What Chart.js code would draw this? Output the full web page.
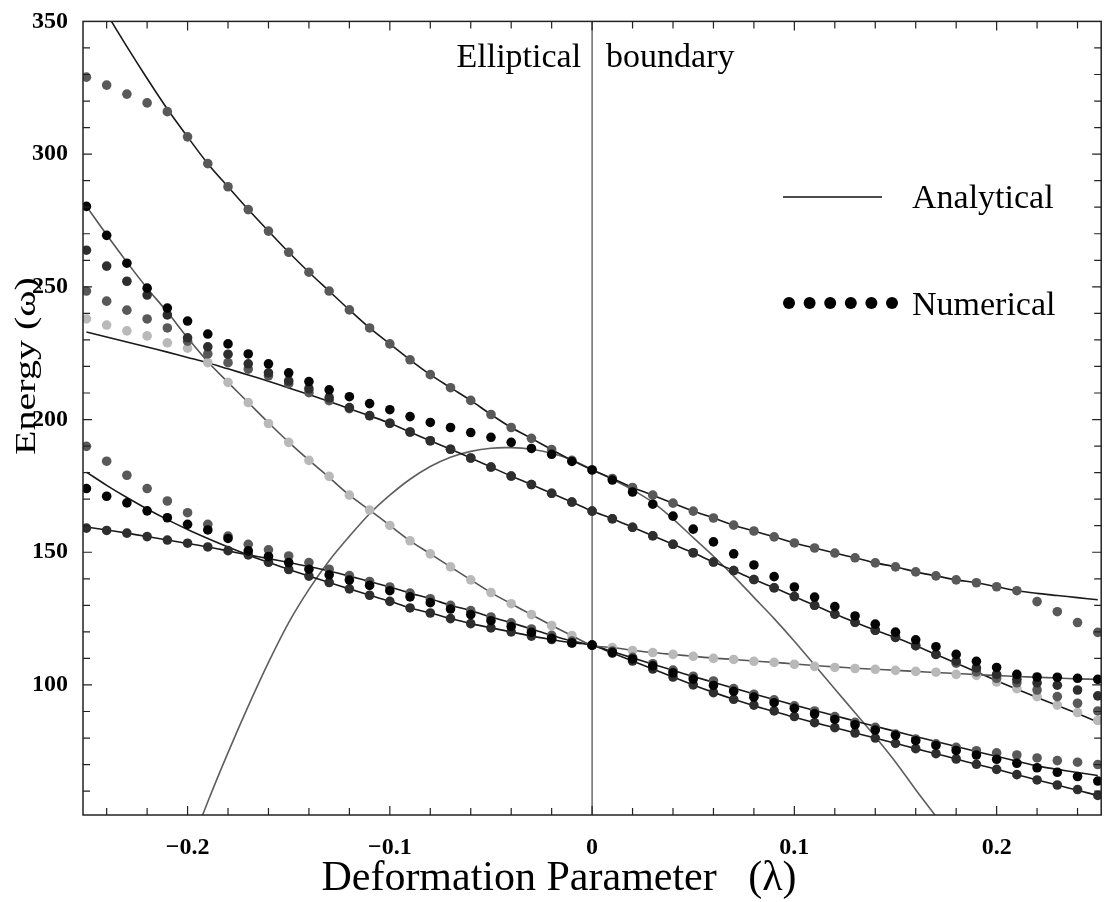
<!DOCTYPE html>
<html>
<head>
<meta charset="utf-8">
<script src="https://cdn.jsdelivr.net/npm/chart.js@4.4.0/dist/chart.umd.min.js"></script>
<style>
  html, body { margin: 0; padding: 0; background: #fff; }
  canvas { display: block; }
</style>
</head>
<body>
<canvas id="chart" width="1106" height="902"></canvas>
<script>
// deformation parameter λ, one numerical point every 0.01
const lambdas = [
  -0.25, -0.24, -0.23, -0.22, -0.21, -0.20, -0.19, -0.18, -0.17, -0.16,
  -0.15, -0.14, -0.13, -0.12, -0.11, -0.10, -0.09, -0.08, -0.07, -0.06,
  -0.05, -0.04, -0.03, -0.02, -0.01, 0.00, 0.01, 0.02, 0.03, 0.04,
  0.05, 0.06, 0.07, 0.08, 0.09, 0.10, 0.11, 0.12, 0.13, 0.14,
  0.15, 0.16, 0.17, 0.18, 0.19, 0.20, 0.21, 0.22, 0.23, 0.24, 0.25
];

// analytical curves (solid lines)
const analytic1 = [
  366, 353, 340.5, 328.5, 317, 306.5, 296.4, 287.7, 279.1, 271,
  263, 255.5, 248.4, 241.3, 234.5, 228.5, 222.5, 216.9, 212, 207.2,
  201.9, 197, 192.9, 188.7, 184.6, 181, 177.8, 174.4, 171.5, 168.5,
  165.5, 162.9, 160.2, 158, 155.8, 153.5, 151.6, 149.7, 147.9, 146,
  144.5, 142.6, 141.1, 139.6, 138.5, 137, 135.5, 134.5, 133.7, 132.9, 132.1
];
const analytic2 = [
  280.3, 269.6, 259.3, 249.5, 240.5, 230.8, 221.8, 214, 206.4, 198.8,
  191.5, 184.7, 178.2, 171.5, 165.9, 160.1, 154.3, 149.4, 144.5, 139.6,
  134.8, 130.6, 126.5, 122.4, 118.6, 114.9, 114.1, 113.1, 112.2, 111.5,
  110.8, 110.1, 109.6, 109, 108.5, 107.9, 107.3, 106.8, 106.3, 105.9,
  105.5, 105.1, 104.7, 104.3, 103.9, 103.5, 103.2, 102.9, 102.6, 102.3, 102.1
];
const analytic3 = [
  233, 231.1, 229.2, 227.3, 225.4, 223.4, 221.4, 219.1, 216.8, 214.4,
  211.9, 209.4, 206.8, 204.1, 201.4, 198.6, 195.3, 192, 188.8, 185.5,
  182.1, 178.7, 175.5, 172.2, 168.9, 165.5, 162.6, 159.4, 156.2, 153,
  149.8, 146.3, 143.1, 139.7, 136.6, 133.3, 130, 126.7, 123.6, 120.6,
  117.9, 114.8, 111.5, 108.2, 104.9, 101.6, 98.4, 95.3, 92.3, 89.2, 86
];
const analytic4 = [
  180.2, 175.2, 170.6, 166.3, 162.3, 158.6, 155.2, 152, 149, 146.2,
  143.5, 141, 138.6, 136.2, 133.8, 131.5, 129, 127.1, 125, 123.1,
  121.5, 120, 118.4, 117.1, 115.9, 115, 112, 109, 106, 103,
  100, 97.2, 94.6, 92.2, 90, 87.8, 85.8, 83.9, 81.9, 80,
  78, 76, 74.1, 72.1, 70.1, 68.2, 66.2, 64.2, 62.3, 60.3, 58.4
];
const analytic5 = [
  159.5, 158.4, 157.2, 155.9, 154.6, 153.3, 152, 150.5, 149, 147.6,
  146.1, 144.6, 142.9, 141, 139, 136.9, 134.6, 132.5, 130, 128,
  125.6, 123.4, 121.1, 118.7, 116.5, 115, 112.6, 110.2, 107.8, 105.5,
  103.2, 101, 98.8, 96.6, 94.5, 92.4, 90.4, 88.4, 86.4, 84.4,
  82.5, 80.6, 78.7, 76.8, 74.9, 73.1, 71.3, 69.5, 68.2, 67, 65.9
];
const analytic6 = [
  null, null, null, null, 16, 36, 56, 74.5, 92, 108.5,
  123.5, 136, 146.8, 156, 164.5, 171.5, 177.5, 182.3, 185.8, 188,
  189.2, 189.4, 188.8, 187.3, 184.8, 181.2, 177.5, 173.5, 168.8, 162.6,
  155.5, 148.5, 141, 133, 125, 116.5, 107.5, 98.5, 89.5, 80.5,
  71, 60.5, 50.5, 40.5, null, null, null, null, null, null, null
];

// numerical levels (dots)
const numeric1 = [
  329, 326, 322.6, 319.3, 316, 306.5, 296.4, 287.7, 279.1, 271,
  263, 255.5, 248.4, 241.3, 234.5, 228.5, 222.5, 216.9, 212, 207.2,
  201.9, 197, 192.9, 188.7, 184.6, 181, 177.8, 174.4, 171.5, 168.5,
  165.5, 162.9, 160.2, 158, 155.8, 153.5, 151.6, 149.7, 147.9, 146,
  144.5, 142.6, 141.1, 139.6, 138.5, 137, 135.5, 131.4, 127.6, 123.5, 119.8
];
const numeric2 = [
  280.3, 269.4, 258.9, 249.5, 242, 237.1, 232.2, 228.5, 224.7, 221,
  217.6, 214.3, 211.2, 208.6, 206, 203.7, 201.1, 198.9, 197, 195.1,
  193.3, 191.4, 189.1, 186.9, 184.2, 181, 177.2, 172.7, 168.1, 163.6,
  158.7, 153.9, 149.4, 145.2, 140.8, 136.9, 133.1, 129.5, 126, 122.9,
  119.9, 117, 114.4, 111.5, 108.9, 106.6, 104, 103, 102.9, 102.5, 102.1
];
const numeric3 = [
  263.8, 257.8, 252.1, 246.9, 239.4, 230.8, 227.4, 224.6, 221, 217.6,
  214.6, 211.6, 208.2, 204.5, 201.5, 198.6, 195.3, 192, 188.8, 185.5,
  182.1, 178.7, 175.5, 172.2, 168.9, 165.5, 162.6, 159.4, 156.2, 153,
  149.8, 146.3, 143.1, 139.7, 136.6, 133.3, 130, 126.7, 123.6, 120.6,
  117.9, 114.8, 111.5, 109, 106.4, 104, 102.1, 100.8, 99.9, 98.1, 95.9
];
const numeric4 = [
  248.4, 244.6, 241.2, 237.9, 234.5, 229.5, 224.7, 221.4, 219, 216.5,
  213.5, 210.1, 207.1, 204.1, 201.4, 198.6, 195.3, 192, 188.8, 185.5,
  182.1, 178.7, 175.5, 172.2, 168.9, 165.5, 162.6, 159.4, 156.2, 153,
  149.8, 146.3, 143.1, 139.7, 136.6, 133.3, 130, 126.7, 123.6, 120.6,
  117.9, 114.8, 111.5, 108.2, 104.9, 102.5, 100.8, 98.1, 95.6, 93.1, 90.2
];
const numeric5 = [
  237.9, 235.6, 233.4, 231.5, 228.9, 226.9, 221.4, 214, 206.4, 198.5,
  191.4, 184.6, 178.6, 171.5, 165.9, 160.1, 154.3, 149.4, 144.5, 139.6,
  134.8, 130.6, 126.5, 122.4, 118.6, 114.9, 114.1, 113, 112.2, 111.5,
  110.8, 110, 109.6, 108.9, 108.5, 107.8, 107, 106.6, 106.2, 105.9,
  105.5, 105.1, 104.8, 104, 103.6, 101.1, 98.6, 95.6, 92.4, 89.6, 86.6
];
const numeric6 = [
  189.9, 184.3, 179, 174, 169.3, 164.9, 160.5, 156.1, 153, 150.9,
  148.6, 146.1, 143.6, 141.2, 139, 136.9, 134.6, 132.5, 130, 128,
  125.6, 123.4, 121.1, 118.7, 116.5, 115, 112.8, 110.4, 108, 105.6,
  103.3, 101.5, 98.6, 96.5, 94.4, 92.1, 90.2, 88.1, 85.9, 84,
  81.5, 79.6, 77.8, 76.5, 75.2, 74.4, 73.6, 72.5, 71.5, 70.9, 70
];
const numeric7 = [
  174, 171.1, 168.6, 165.6, 163, 160.5, 158.4, 155.2, 150.5, 148.4,
  146.1, 143.6, 141.5, 139.5, 137.5, 135.5, 133.2, 131, 128.6, 126.5,
  124.2, 122, 119.8, 117.6, 115.8, 115, 112.3, 109.8, 107.2, 104.6,
  102.2, 99.8, 97.6, 95.4, 93.3, 91.2, 89.1, 87, 85, 83,
  81, 79, 77.2, 75.3, 73.6, 72, 70.5, 68.8, 67.1, 65.5, 63.8
];
const numeric8 = [
  159.1, 158.2, 157.2, 155.9, 154.6, 153.4, 152, 150.6, 149, 146.2,
  143.5, 141, 138.6, 136.2, 133.8, 131.5, 129, 127.1, 125, 123.1,
  121.5, 120, 118.4, 117.1, 115.9, 115, 112, 109, 106, 103,
  100, 97.1, 94.6, 92.4, 90.2, 88.1, 85.8, 83.9, 81.9, 80,
  78, 76, 74.1, 72.1, 70.1, 68.2, 66.2, 64.2, 62.3, 60.6, 58.4
];

const xTicks = [-0.2, -0.1, 0, 0.1, 0.2];
const yTicks = [100, 150, 200, 250, 300, 350];

const serif = '"Liberation Serif", "DejaVu Serif", serif';

function toPoints(values) {
  return lambdas.map((x, i) => ({ x: x, y: values[i] }));
}

function lineSet(values, color) {
  return {
    data: toPoints(values),
    borderColor: color,
    borderWidth: 1.6,
    pointRadius: 0,
    tension: 0.3,
    fill: false,
    order: 20
  };
}

function dotSet(values, color, order) {
  return {
    data: toPoints(values),
    showLine: false,
    pointRadius: 4.8,
    pointBackgroundColor: color,
    pointBorderWidth: 0,
    order: order
  };
}

// inward ticks, frame, λ = 0 marker and the annotation texts
const framePlugin = {
  id: 'frame',
  beforeDatasetsDraw(chart) {
    const { ctx, chartArea: a, scales: { x } } = chart;
    const x0 = x.getPixelForValue(0);
    ctx.save();
    ctx.strokeStyle = '#555';
    ctx.lineWidth = 1.3;
    ctx.beginPath();
    ctx.moveTo(x0, a.top);
    ctx.lineTo(x0, a.bottom);
    ctx.stroke();
    ctx.restore();
  },
  afterDraw(chart) {
    const { ctx, chartArea: a, scales: { x, y } } = chart;
    ctx.save();
    ctx.strokeStyle = '#222';
    ctx.lineWidth = 1.5;
    ctx.strokeRect(a.left, a.top, a.right - a.left, a.bottom - a.top);

    ctx.lineWidth = 1.2;
    ctx.beginPath();
    for (let i = -12; i <= 12; i++) {
      const px = x.getPixelForValue(i * 0.02);
      const len = (i % 5 === 0) ? 9 : 7;
      ctx.moveTo(px, a.bottom); ctx.lineTo(px, a.bottom - len);
      ctx.moveTo(px, a.top); ctx.lineTo(px, a.top + len);
    }
    for (let v = 60; v <= 340; v += 10) {
      const py = y.getPixelForValue(v);
      const len = (v % 50 === 0) ? 9 : 7;
      ctx.moveTo(a.left, py); ctx.lineTo(a.left + len, py);
      ctx.moveTo(a.right, py); ctx.lineTo(a.right - len, py);
    }
    ctx.stroke();

    ctx.fillStyle = '#000';
    ctx.textBaseline = 'alphabetic';

    // boundary label either side of λ = 0
    const x0 = x.getPixelForValue(0);
    ctx.font = '34px ' + serif;
    ctx.textAlign = 'right';
    ctx.fillText('Elliptical', x0 - 11, 67);
    ctx.textAlign = 'left';
    ctx.fillText('boundary', x0 + 14, 67);

    // legend
    ctx.strokeStyle = '#111';
    ctx.lineWidth = 1.3;
    ctx.beginPath();
    ctx.moveTo(783, 197);
    ctx.lineTo(882, 197);
    ctx.stroke();
    for (let i = 0; i < 6; i++) {
      ctx.beginPath();
      ctx.arc(789 + i * 20.6, 303, 6, 0, Math.PI * 2);
      ctx.fill();
    }
    ctx.fillText('Analytical', 912, 208);
    ctx.fillText('Numerical', 912, 315);

    // axis titles
    ctx.textAlign = 'center';
    ctx.font = '42px ' + serif;
    ctx.fillText('Deformation Parameter   (\u03bb)', 559, 890);

    // the y title looks squashed across its height in the original
    ctx.translate(35, 366);
    ctx.rotate(-Math.PI / 2);
    ctx.scale(1, 0.75);
    ctx.font = '40px ' + serif;
    ctx.fillText('Energy (\u03c9)', 0, 0);
    ctx.restore();
  }
};

const tickFont = { family: serif, size: 24, weight: 'bold' };

new Chart(document.getElementById('chart'), {
  type: 'line',
  data: {
    datasets: [
      dotSet(numeric2, '#050505', 1),
      dotSet(numeric7, '#050505', 1),
      dotSet(numeric3, '#2e2e2e', 2),
      dotSet(numeric8, '#2e2e2e', 2),
      dotSet(numeric1, '#595959', 3),
      dotSet(numeric4, '#595959', 3),
      dotSet(numeric6, '#595959', 3),
      dotSet(numeric5, '#b9b9b9', 4),
      lineSet(analytic1, '#1a1a1a'),
      lineSet(analytic2, '#555555'),
      lineSet(analytic3, '#1a1a1a'),
      lineSet(analytic4, '#1a1a1a'),
      lineSet(analytic5, '#1a1a1a'),
      lineSet(analytic6, '#5e5e5e')
    ]
  },
  options: {
    responsive: false,
    animation: false,
    devicePixelRatio: 1,
    layout: { padding: { top: 19, right: 1, left: 0, bottom: 0 } },
    plugins: { legend: { display: false }, tooltip: { enabled: false } },
    scales: {
      x: {
        type: 'linear',
        min: -0.2517,
        max: 0.2517,
        grid: { display: false },
        border: { display: false },
        afterBuildTicks: s => { s.ticks = xTicks.map(v => ({ value: v })); },
        afterFit: s => { s.height = 87; },
        ticks: {
          font: tickFont,
          color: '#000',
          padding: 10,
          maxRotation: 0,
          callback: v => v === 0 ? '0' : (v < 0 ? '\u2212' : '') + Math.abs(v).toFixed(1)
        }
      },
      y: {
        min: 51,
        max: 350,
        grid: { display: false },
        border: { display: false },
        afterBuildTicks: s => { s.ticks = yTicks.map(v => ({ value: v })); },
        afterFit: s => { s.width = 83; },
        ticks: { font: tickFont, color: '#000', padding: 7 }
      }
    }
  },
  plugins: [framePlugin]
});
</script>
</body>
</html>
